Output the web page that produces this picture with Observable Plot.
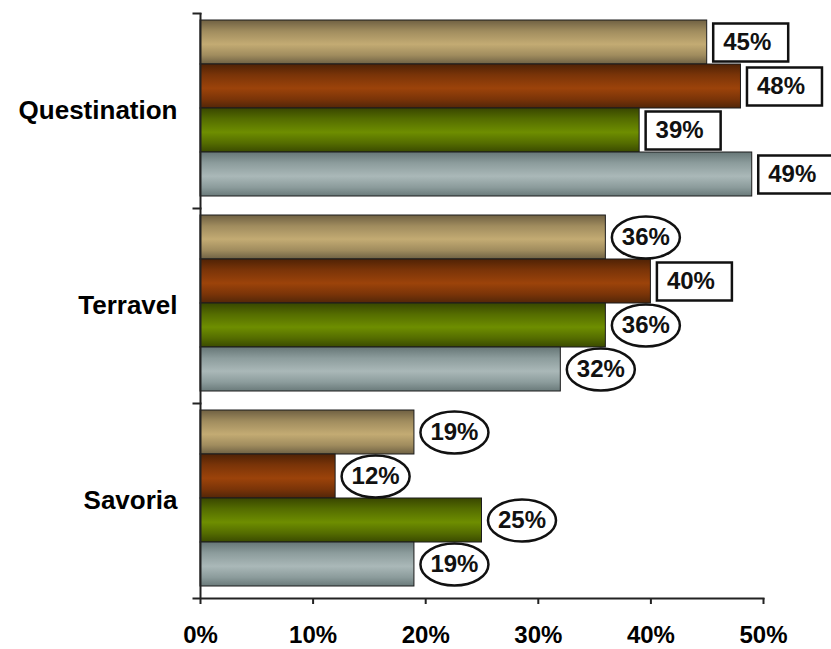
<!DOCTYPE html>
<html>
<head>
<meta charset="utf-8">
<script src="https://cdn.jsdelivr.net/npm/d3@7"></script>
<script src="https://cdn.jsdelivr.net/npm/@observablehq/plot@0.6"></script>
<style>
  html, body { margin: 0; padding: 0; background: #fff; }
  #defs { position: absolute; width: 0; height: 0; }
</style>
</head>
<body>
<!-- Shaded bar fills: dark edges, lighter centre stripe -->
<svg id="defs" aria-hidden="true">
  <defs>
    <linearGradient id="bar-grad-0" x1="0" y1="0" x2="0" y2="1">
      <stop offset="0" stop-color="#6f6042"/>
      <stop offset="0.25" stop-color="#a08c5e"/>
      <stop offset="0.55" stop-color="#c3ab73"/>
      <stop offset="0.8" stop-color="#a08c5e"/>
      <stop offset="1" stop-color="#6e6144"/>
    </linearGradient>
    <linearGradient id="bar-grad-1" x1="0" y1="0" x2="0" y2="1">
      <stop offset="0" stop-color="#4f2205"/>
      <stop offset="0.25" stop-color="#7a3408"/>
      <stop offset="0.55" stop-color="#9c430a"/>
      <stop offset="0.8" stop-color="#7a3408"/>
      <stop offset="1" stop-color="#522608"/>
    </linearGradient>
    <linearGradient id="bar-grad-2" x1="0" y1="0" x2="0" y2="1">
      <stop offset="0" stop-color="#384600"/>
      <stop offset="0.25" stop-color="#546c00"/>
      <stop offset="0.55" stop-color="#6e8e00"/>
      <stop offset="0.8" stop-color="#546c00"/>
      <stop offset="1" stop-color="#3a4a00"/>
    </linearGradient>
    <linearGradient id="bar-grad-3" x1="0" y1="0" x2="0" y2="1">
      <stop offset="0" stop-color="#667676"/>
      <stop offset="0.25" stop-color="#8c9c9c"/>
      <stop offset="0.55" stop-color="#aab8b8"/>
      <stop offset="0.8" stop-color="#8c9c9c"/>
      <stop offset="1" stop-color="#6a7a7a"/>
    </linearGradient>
  </defs>
</svg>
<div id="chart"></div>
<script>
// Categories (top to bottom) and the four series within each group
const categories = ["Questination", "Terravel", "Savoria"];
const series = ["Series 1", "Series 2", "Series 3", "Series 4"];

// Percentages per category, in series order
const questination = [45, 48, 39, 49];
const terravel = [36, 40, 36, 32];
const savoria = [19, 12, 25, 19];

// X axis tick values (percent)
const xTicks = [0, 10, 20, 30, 40, 50];

const valuesByCategory = [questination, terravel, savoria];
const data = categories.flatMap((category, c) =>
  series.map((s, i) => ({category, series: s, value: valuesByCategory[c][i]}))
);

const width = 831, height = 649;
const marginLeft = 200, marginRight = 68, marginTop = 12, marginBottom = 51;
const innerWidth = width - marginLeft - marginRight;
const font = "'Liberation Sans', Arial, Helvetica, sans-serif";

// Label frames: a rectangle for the boxed labels, an ellipse for the rest
const boxSymbol = {
  draw(ctx) { ctx.rect(-34, -19, 75, 38); }
};
const ellipseSymbol = {
  draw(ctx) {
    const rx = 34, ry = 21, kx = rx * 0.5523, ky = ry * 0.5523;
    ctx.moveTo(rx, 0);
    ctx.bezierCurveTo(rx, ky, kx, ry, 0, ry);
    ctx.bezierCurveTo(-kx, ry, -rx, ky, -rx, 0);
    ctx.bezierCurveTo(-rx, -ky, -kx, -ry, 0, -ry);
    ctx.bezierCurveTo(kx, -ry, rx, -ky, rx, 0);
    ctx.closePath();
  }
};
const boxed = d => d.category === categories[0] || (d.category === categories[1] && d.series === series[1]);

const labelOffset = 40;

const chart = Plot.plot({
  width, height, marginLeft, marginRight, marginTop, marginBottom,
  style: {fontFamily: font, fontWeight: "bold", color: "#000", background: "#fff"},
  x: {domain: [0, 50], axis: null},
  y: {domain: series, padding: 0, axis: null, insetTop: 6, insetBottom: 11},
  fy: {domain: categories, padding: 0, label: null},
  marks: [
    // bars, one mark per series so each gets its own shaded fill
    ...series.map((s, i) => Plot.barX(data.filter(d => d.series === s), {
      fy: "category", y: "series", x: "value",
      fill: `url(#bar-grad-${i})`, stroke: "#1c1c1c", strokeWidth: 1
    })),
    // vertical axis line and category boundary ticks
    Plot.ruleX([0], {stroke: "#222", strokeWidth: 2}),
    Plot.frame({anchor: "top", insetLeft: -7, insetRight: innerWidth, stroke: "#222", strokeWidth: 2}),
    // horizontal axis line (bottom facet only)
    Plot.frame({anchor: "bottom", facetAnchor: "bottom", insetLeft: -7, stroke: "#222", strokeWidth: 2}),
    Plot.axisX({
      anchor: "bottom", ticks: xTicks, tickFormat: d => `${d}%`,
      tickSize: 6, tickPadding: 21, strokeWidth: 2, stroke: "#222",
      fontSize: 24, fontWeight: "bold", label: null
    }),
    Plot.axisFy({
      anchor: "left", tickSize: 0, tickPadding: 23,
      fontSize: 26, fontWeight: "bold", label: null
    }),
    // value labels with their frames
    Plot.dot(data.filter(boxed), {
      fy: "category", y: "series", x: "value", dx: labelOffset,
      symbol: boxSymbol, fill: "white", stroke: "#111", strokeWidth: 2.5
    }),
    Plot.dot(data.filter(d => !boxed(d)), {
      fy: "category", y: "series", x: "value", dx: labelOffset,
      symbol: ellipseSymbol, fill: "white", stroke: "#111", strokeWidth: 2.5
    }),
    Plot.text(data, {
      fy: "category", y: "series", x: "value", dx: labelOffset,
      text: d => `${d.value}%`, fontSize: 24, fontWeight: "bold", fill: "#111"
    })
  ]
});

document.getElementById("chart").appendChild(chart);
</script>
</body>
</html>
